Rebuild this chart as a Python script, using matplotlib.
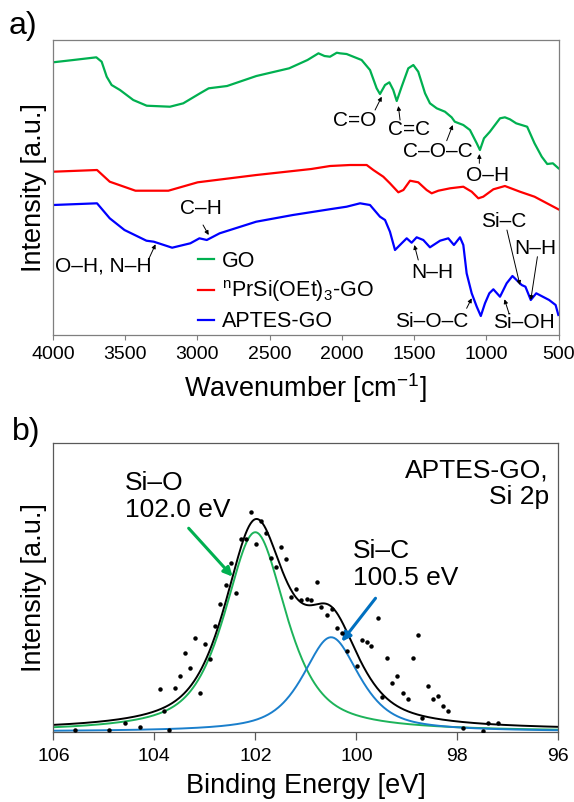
import numpy as np
import matplotlib
matplotlib.use("Agg")
import matplotlib.pyplot as plt

plt.rcParams['font.family'] = ['Liberation Sans', 'DejaVu Sans']
plt.rcParams['mathtext.fontset'] = 'custom'
plt.rcParams['mathtext.rm'] = 'Liberation Sans'
plt.rcParams['mathtext.it'] = 'Liberation Sans:italic'

# ---- a) FTIR spectra (wavenumber in cm-1, intensity in a.u., offset stacked) ----
go_wn = [4000, 3860, 3700, 3663, 3628, 3594, 3536, 3444, 3351, 3190, 3098, 2982, 2922, 2795,
         2592, 2365, 2238, 2162, 2120, 2082, 2035, 2013, 1967, 1863, 1805, 1759, 1736, 1701,
         1671, 1644, 1620, 1586, 1540, 1505, 1471, 1424, 1390, 1343, 1286, 1240, 1218, 1159,
         1113, 1066, 1044, 1016, 975, 905, 871, 836, 793, 717, 666, 616, 578, 539, 500]
go_int = [272.7, 275, 277.7, 273.3, 258.3, 250, 245, 235, 229.3, 228.3, 231.7, 241.7, 246.7, 249,
          259, 266.7, 275, 281.7, 279, 278.3, 282.3, 281.7, 281, 275, 265, 246.7, 241, 250,
          252.7, 245, 234, 248.3, 266.7, 270, 263.3, 241.7, 231.7, 226.7, 223.3, 217.7, 213.3, 210,
          205, 191.7, 185, 196.7, 203.3, 216.7, 217.7, 215.7, 211.7, 208.3, 191.7, 178.3, 171, 171.7, 166.7]

pr_wn = [4000, 3695, 3607, 3429, 3201, 2998, 2592, 2212, 2082, 1944, 1858, 1828, 1782, 1713,
         1667, 1609, 1574, 1528, 1471, 1413, 1378, 1332, 1251, 1159, 1101, 1055, 1021, 951,
         871, 767, 666, 501]
pr_int = [163.3, 165, 153.3, 144.3, 144.3, 152.7, 160, 166, 169, 170, 170, 170, 165, 158.3,
          151.7, 142.7, 145, 154.3, 152.7, 145, 141.7, 144.3, 146.7, 148.3, 143.3, 136.7, 138.3, 145.7,
          149, 143.3, 138.3, 125.7]

ap_wn = [4000, 3695, 3607, 3505, 3353, 3302, 3175, 3049, 2986, 2935, 2846, 2593, 2339, 2086,
         1967, 1874, 1805, 1736, 1701, 1667, 1632, 1586, 1551, 1517, 1482, 1436, 1390, 1320,
         1263, 1224, 1182, 1159, 1136, 1101, 1066, 1038, 1009, 979, 951, 905, 859, 819,
         755, 729, 692, 654, 565, 520, 501]
ap_int = [130, 131.7, 116.7, 105, 94.3, 93.3, 87.3, 91.7, 96.7, 95, 101.7, 113.3, 120, 125.7,
          128.3, 131.7, 130, 118.3, 115, 103.3, 85, 91.7, 96.7, 92.3, 97.7, 95, 87.7, 94.3,
          96.7, 90, 97.7, 90, 61.7, 41.7, 28.3, 19, 31.7, 41.7, 45.7, 38.3, 51.7, 59,
          50, 48.3, 35, 41.7, 35, 30, 20]

# peak labels: (text, text x, text y, arrow start x, start y, arrow tip x, tip y)
ir_labels = [
    ('C=O', 1909, 214.5, 1770, 225, 1724, 238.3),
    ('C=C', 1535, 205.8, 1597, 215, 1609, 229),
    ('C\u2013O\u2013C', 1338, 183.3, 1274, 194.3, 1232, 210),
    ('O\u2013H', 988, 160, 1048, 171.7, 1048, 181),
    ('C\u2013H', 2975, 127, 2961, 110, 2922, 100),
    ('O\u2013H, N\u2013H', 3650, 69, 3340, 75, 3290, 90.7),
    ('N\u2013H', 1376, 62.5, 1471, 75, 1498, 90),
    ('Si\u2013O\u2013C', 1378, 13.3, 1136, 26.7, 1101, 36.7),
    ('Si\u2013OH', 739, 12, 843, 21.7, 874, 35.7),
    ('Si\u2013C', 881, 113.3, 857, 105, 767, 50),
    ('N\u2013H', 659, 86.7, 646, 78.3, 692, 35),
]

# ---- b) XPS Si 2p of APTES-GO ----
xps_be = [105.58, 104.89, 104.58, 104.28, 103.89, 103.80, 103.70, 103.59, 103.49, 103.39,
          103.29, 103.19, 103.09, 102.99, 102.89, 102.79, 102.70, 102.59, 102.49, 102.39,
          102.29, 102.19, 102.09, 101.99, 101.89, 101.79, 101.69, 101.59, 101.49, 101.39,
          101.29, 101.19, 101.09, 100.98, 100.89, 100.78, 100.69, 100.59, 100.49, 100.39,
          100.29, 100.19, 99.99, 99.89, 99.79, 99.70, 99.58, 99.49, 99.39, 99.29,
          99.19, 99.08, 98.98, 98.88, 98.78, 98.69, 98.59, 98.49, 98.39, 98.29,
          98.19, 97.88, 97.49, 97.39, 97.19]
xps_cps = [1.7, 1.7, 9, 4.4, 42.7, 21, 1.7, 44, 56, 78.7,
           64, 94, 39, 87.7, 72.7, 106, 127.4, 146.7, 169, 139,
           192.4, 192.4, 219.4, 187.4, 211, 198.4, 173.4, 165, 184.4, 172.4,
           134.4, 142.4, 131.7, 132.4, 131.7, 149.4, 124.4, 116.7, 122.4, 103.4,
           99, 81, 65.7, 91.7, 90, 85.7, 113.4, 35, 73.4, 48.4,
           55.7, 38.4, 32.4, 73.4, 96.7, 13.4, 45.7, 32.4, 35.7, 25.7,
           21, 3.4, 1, 8.4, 8.4]

# fitted components (pseudo-Voigt): Si-O and Si-C
peak_names = ['Si\u2013O', 'Si\u2013C']
peak_pos = [102.0, 100.5]
peak_height = [199.4, 94.4]
peak_fwhm = [1.45, 1.33]
lor_frac = 0.7
background = 1.4


def pvoigt(x, x0, h, w, eta):
    lor = 1.0 / (1.0 + ((x - x0) / (w / 2.0)) ** 2)
    gau = np.exp(-4.0 * np.log(2.0) * ((x - x0) / w) ** 2)
    return h * (eta * lor + (1.0 - eta) * gau)


fig = plt.figure(figsize=(5.74, 8.02), dpi=100)
ax1 = fig.add_axes([0.0923, 0.5823, 0.8807, 0.3678])
ax2 = fig.add_axes([0.0929, 0.0877, 0.8798, 0.3604])

# ---- panel a ----
ax1.plot(go_wn, go_int, color='#00b050', lw=1.6, label='GO')
ax1.plot(pr_wn, pr_int, color='#ff0000', lw=1.6, label=r'$^{\rm n}$PrSi(OEt)$_3$-GO')
ax1.plot(ap_wn, ap_int, color='#0000ff', lw=1.6, label='APTES-GO')
ax1.set_xlim(4000, 500)
ax1.set_ylim(0, 295)
ax1.set_xticks(np.arange(4000, 499, -500))
ax1.set_yticks([])
ax1.tick_params(axis='x', direction='out', length=3.5, width=0.8, color='#7f7f7f',
                labelsize=14, pad=4.5)
for s in ax1.spines.values():
    s.set_color('#7f7f7f')
    s.set_linewidth(0.9)
ax1.set_xlabel('Wavenumber [cm$^{\u22121}$]', fontsize=19.5, labelpad=6)
ax1.set_ylabel('Intensity [a.u.]', fontsize=19.5)
ax1.yaxis.set_label_coords(-0.012, 0.5)

for txt, tx, ty, sx, sy, ex, ey in ir_labels:
    ax1.text(tx, ty, txt, fontsize=15, ha='center', va='center')
    ax1.annotate('', xy=(ex, ey), xytext=(sx, sy),
                 arrowprops=dict(arrowstyle='-|>', color='k', lw=0.7,
                                 mutation_scale=6, shrinkA=0, shrinkB=0))

ax1.legend(loc='upper left', bbox_to_anchor=(0.287, 0.285), frameon=False,
           fontsize=15.5, handlelength=0.75, handletextpad=0.35,
           labelspacing=0.31, borderpad=0, borderaxespad=0)

fig.text(0.015, 0.967, 'a)', fontsize=23, va='center', ha='left')

# ---- panel b ----
be = np.linspace(106, 96, 600)
comps = [pvoigt(be, c, h, w, lor_frac) for c, h, w in zip(peak_pos, peak_height, peak_fwhm)]
envelope = comps[0] + comps[1] + background

ax2.plot(xps_be, xps_cps, 'o', color='k', ms=2.2, zorder=4)
ax2.plot(be, comps[0], color='#1db35a', lw=1.4)
ax2.plot(be, comps[1], color='#1a7fcc', lw=1.4)
ax2.plot(be, envelope, color='k', lw=1.4)
ax2.set_xlim(106, 96)
ax2.set_ylim(0, 289)
ax2.set_xticks(np.arange(106, 95, -2))
ax2.set_yticks([])
ax2.tick_params(axis='x', direction='out', length=5.5, width=0.9, color='#595959',
                labelsize=14, pad=6)
for s in ax2.spines.values():
    s.set_color('#595959')
    s.set_linewidth(0.9)
ax2.set_xlabel('Binding Energy [eV]', fontsize=19.5, labelpad=6)
ax2.set_ylabel('Intensity [a.u.]', fontsize=19.5)
ax2.yaxis.set_label_coords(-0.012, 0.5)

ax2.text(96.19, 248.2, 'APTES-GO,\nSi 2p', fontsize=19, ha='right', va='center',
         multialignment='right', linespacing=1.15)
ax2.text(104.59, 235.2, '%s\n%.1f eV' % (peak_names[0], peak_pos[0]), fontsize=19,
         ha='left', va='center', linespacing=1.15)
ax2.text(100.07, 167.4, '%s\n%.1f eV' % (peak_names[1], peak_pos[1]), fontsize=19,
         ha='left', va='center', linespacing=1.15)
ax2.annotate('', xy=(102.45, 155), xytext=(103.32, 203.4),
             arrowprops=dict(arrowstyle='-|>', color='#00b050', lw=2.2,
                             mutation_scale=13, shrinkA=0, shrinkB=0))
ax2.annotate('', xy=(100.29, 90), xytext=(99.62, 133.4),
             arrowprops=dict(arrowstyle='-|>', color='#0070c0', lw=2.2,
                             mutation_scale=13, shrinkA=0, shrinkB=0))

fig.text(0.02, 0.461, 'b)', fontsize=23, va='center', ha='left')

fig.savefig('out.png', dpi=100)
